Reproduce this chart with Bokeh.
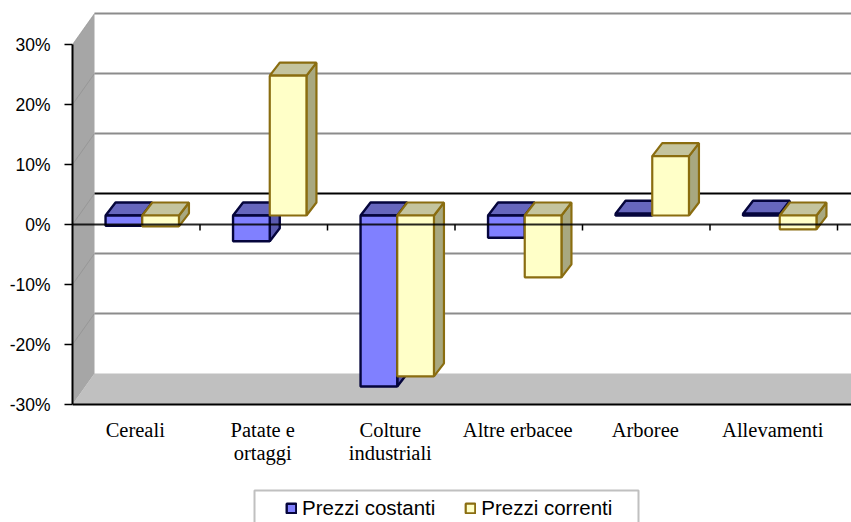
from bokeh.plotting import figure
from bokeh.models import (Range1d, LinearAxis, FixedTicker, Legend, LegendItem,
                          PrintfTickFormatter)
from bokeh.core.properties import value
from bokeh.embed import file_html
from bokeh.resources import INLINE

categories = ["Cereali", "Patate e\nortaggi", "Colture\nindustriali",
              "Altre erbacee", "Arboree", "Allevamenti"]
prezzi_costanti = [-1.7, -4.3, -28.5, -3.7, 0.3, 0.3]
prezzi_correnti = [-1.8, 23.3, -26.8, -10.3, 9.9, -2.3]
y_ticks = [-30, -20, -10, 0, 10, 20, 30]

PX_CAT, PX_PCT = 127.5, 6.0
X_MAX = 779 / PX_CAT
Y_MAX = 224 / PX_PCT
Y_MIN = (224 - 522) / PX_PCT
WALL_DX, WALL_DY = 22 / PX_CAT, 31 / PX_PCT       # depth of the 3D box
BAR_DX, BAR_DY = 10 / PX_CAT, 13 / PX_PCT         # depth of a bar
BAR_W = 36.7 / PX_CAT
PLANE_DX, PLANE_DY = 6 / PX_CAT, 9 / PX_PCT       # front plane of the bars

p = figure(width=851, height=522, output_backend="svg", toolbar_location=None,
           x_range=Range1d(0, X_MAX), y_range=Range1d(Y_MIN, Y_MAX),
           x_axis_type=None, y_axis_type=None, min_border_left=72, min_border_right=0,
           min_border_top=0, min_border_bottom=0, frame_width=779, frame_height=522,
           outline_line_color=None, background_fill_color="white",
           margin=(0, 0, 0, 0))
p.xgrid.visible = False
p.ygrid.visible = False

# floor and side wall
p.patch([0, WALL_DX, X_MAX, X_MAX], [-30, -30 + WALL_DY, -30 + WALL_DY, -30],
        fill_color="#c0c0c0", line_color=None)
p.patch([0, WALL_DX, WALL_DX, 0], [30, 30 + WALL_DY, -30 + WALL_DY, -30],
        fill_color="#a6a6a6", line_color=None)

# gridlines on the back wall, with their run across the side wall
for t in y_ticks:
    if t > -30:
        c = "#000000" if t == 0 else "#8c8c8c"
        p.line([WALL_DX, X_MAX], [t + WALL_DY] * 2, line_color=c, line_width=2)
        p.line([0, WALL_DX], [t, t + WALL_DY], line_color="#8c8c8c", line_width=1, line_alpha=0.6)

STYLES = [
    dict(front="#8080ff", top="#6666bd", side="#5a5ab0", line="#05053c", width=2.4),
    dict(front="#ffffc8", top="#c4c49e", side="#a8a880", line="#8a6d10", width=2.2),
]

front_renderers = [None, None]
for i in range(len(categories)):
    for s, vals in enumerate([prezzi_costanti, prezzi_correnti]):
        st = STYLES[s]
        x0 = i + 0.5 + PLANE_DX + (s - 1) * BAR_W
        x1 = x0 + BAR_W
        z = PLANE_DY
        v = vals[i] + z
        hi = max(v, z)
        lo = min(v, z)
        p.patch([x1, x1 + BAR_DX, x1 + BAR_DX, x1],
                [lo, lo + BAR_DY, hi + BAR_DY, hi],
                fill_color=st["side"], line_color=st["line"], line_width=st["width"])
        p.patch([x0, x0 + BAR_DX, x1 + BAR_DX, x1],
                [hi, hi + BAR_DY, hi + BAR_DY, hi],
                fill_color=st["top"], line_color=st["line"], line_width=st["width"])
        r = p.quad(left=x0, right=x1, bottom=lo, top=hi,
                   fill_color=st["front"], line_color=st["line"], line_width=st["width"])
        if front_renderers[s] is None:
            front_renderers[s] = r

# base line, zero line and the ticks between categories
p.line([0, X_MAX], [-30, -30], line_color="#000000", line_width=2)
p.line([0, X_MAX], [0, 0], line_color="#000000", line_width=2, line_alpha=0.85)
for i in range(1, 7):
    p.line([i, i], [0, -6 / PX_PCT], line_color="#000000", line_width=1.5)

yaxis = LinearAxis(ticker=FixedTicker(ticks=y_ticks), bounds=(-30, 30),
                   formatter=PrintfTickFormatter(format="%d%%"),
                   axis_line_color="#000000", axis_line_width=2,
                   major_tick_line_color="#000000", major_tick_line_width=1.5,
                   major_tick_in=0, major_tick_out=8, minor_tick_line_color=None,
                   major_label_text_font="Liberation Sans",
                   major_label_text_font_size="17.5px", major_label_text_color="#000000",
                   major_label_standoff=14)
p.add_layout(yaxis, "left")

# category labels below the chart
LABEL_Y0, LABEL_STEP = (224 - 429.5) / PX_PCT, 23 / PX_PCT
LABEL_DX = -1 / PX_CAT
lx, ly, lt = [], [], []
for i, c in enumerate(categories):
    for k, part in enumerate(c.split("\n")):
        lx.append(i + 0.5 + LABEL_DX)
        ly.append(LABEL_Y0 - k * LABEL_STEP)
        lt.append(part)
p.text(x=lx, y=ly, text=lt, text_font=value("Liberation Serif"), text_font_size="20.5px",
       text_align="center", text_baseline="middle", text_color="#000000")

# legend box, open at the bottom edge of the picture
p.quad(left=(254 - 72) / PX_CAT, right=(638 - 72) / PX_CAT,
       top=(224 - 490) / PX_PCT, bottom=Y_MIN - 2,
       fill_color="white", line_color="#c0c0c0", line_width=2)

legend = Legend(items=[LegendItem(label="Prezzi costanti", renderers=[front_renderers[0]]),
                       LegendItem(label="Prezzi correnti", renderers=[front_renderers[1]])],
                orientation="horizontal", location=(213, 2),
                border_line_color=None, background_fill_alpha=0,
                label_text_font="Liberation Sans", label_text_font_size="20.5px",
                label_text_color="#000000", glyph_width=12, glyph_height=12,
                label_standoff=5, spacing=29, padding=0, margin=0)
p.add_layout(legend, "center")

open("out.html", "w").write(file_html(p, INLINE))
